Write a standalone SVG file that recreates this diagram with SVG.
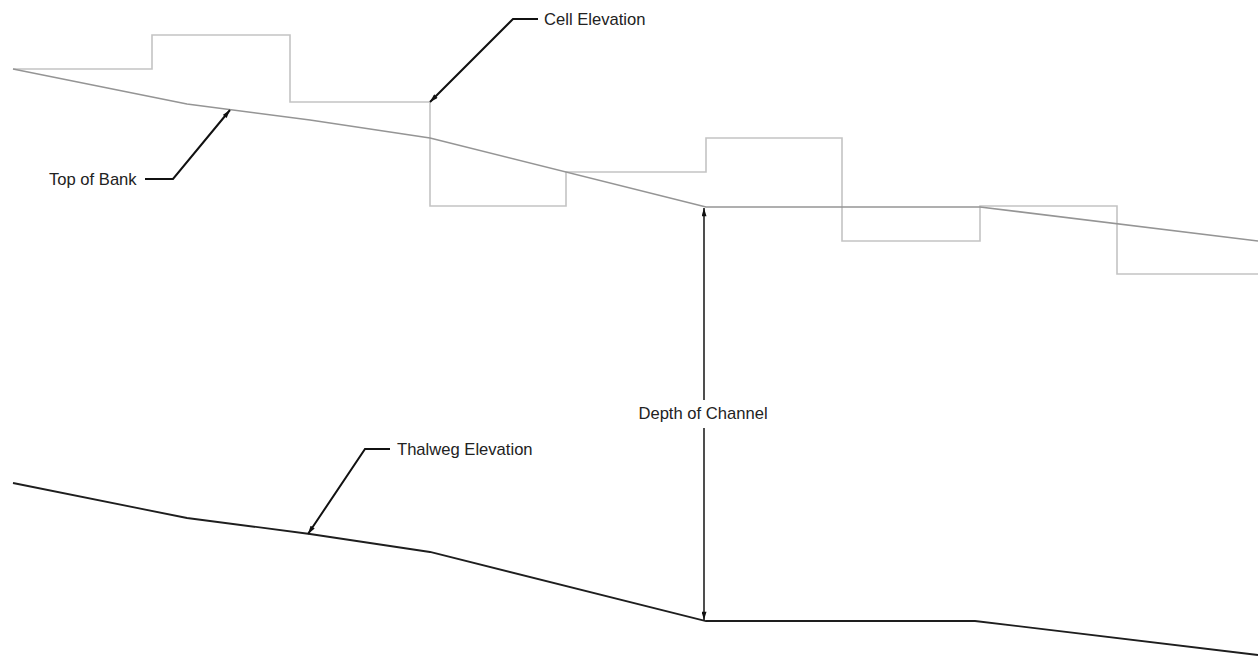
<svg xmlns="http://www.w3.org/2000/svg" width="1258" height="656" viewBox="0 0 1258 656">
  <style>
    .cell { fill: none; stroke: #c4c4c4; stroke-width: 1.6; }
    .bank { fill: none; stroke: #959595; stroke-width: 1.6; }
    .thal { fill: none; stroke: #1e1e1e; stroke-width: 1.8; }
    .lead { fill: none; stroke: #111; stroke-width: 2; }
    .dim { fill: none; stroke: #222; stroke-width: 1.6; }
    .lbl { font-family: "Liberation Sans", Arial, sans-serif; font-size: 16.6px; fill: #222; }
  </style>
  <defs>
    <marker id="arr" viewBox="0 0 10 6" refX="10" refY="3" markerWidth="9" markerHeight="5" markerUnits="userSpaceOnUse" orient="auto">
      <path d="M0,0 L10,3 L0,6 Z" fill="#111"/>
    </marker>
  </defs>
  <rect width="1258" height="656" fill="#ffffff"/>

  <g id="cell-elevation">
    <polyline class="cell" points="13,69 152,69 152,35 290,35 290,102 430,102 430,206 566,206 566,172 706,172 706,138 842,138 842,241 980,241 980,206 1117,206 1117,274 1258,274"/>
  </g>
  <g id="top-of-bank">
    <polyline class="bank" points="13,69 187,104 310,120 430,138 706,207 980,207 1258,241"/>
  </g>
  <g id="thalweg">
    <polyline class="thal" points="13,483 187,518 310,534 430,552 706,621 975,621 1258,655"/>
  </g>

  <g id="connectors">
    <polyline class="lead" marker-end="url(#arr)" points="538,19 513,19 430,102"/>
    <polyline class="lead" marker-end="url(#arr)" points="145,179 173,179 230,110"/>
    <polyline class="lead" marker-end="url(#arr)" points="390,449 365,449 308,534"/>
    <line class="dim" x1="704" y1="400" x2="704" y2="208" marker-end="url(#arr)"/>
    <line class="dim" x1="704" y1="428" x2="704" y2="620" marker-end="url(#arr)"/>
  </g>

  <g id="label-cell-elevation"><text class="lbl" x="544" y="24.5">Cell Elevation</text></g>
  <g id="label-top-of-bank"><text class="lbl" x="49" y="184.5">Top of Bank</text></g>
  <g id="label-thalweg"><text class="lbl" x="397" y="454.5">Thalweg Elevation</text></g>
  <g id="label-depth"><text class="lbl" x="703" y="418.5" text-anchor="middle">Depth of Channel</text></g>
</svg>
